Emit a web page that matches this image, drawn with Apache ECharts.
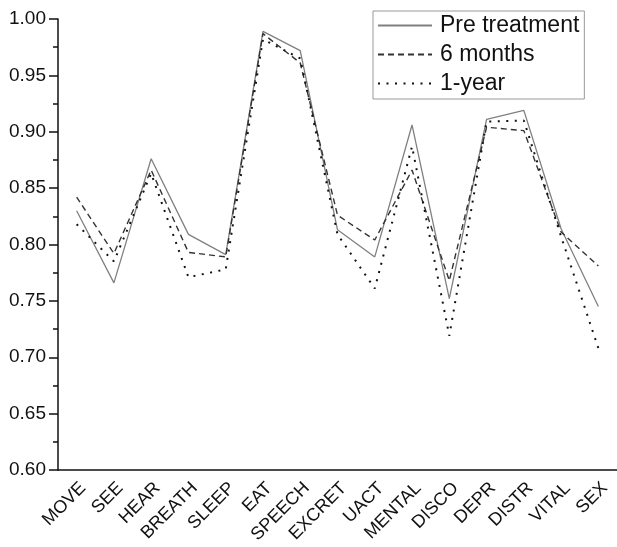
<!DOCTYPE html>
<html>
<head>
<meta charset="utf-8">
<script src="https://cdn.jsdelivr.net/npm/echarts@6/dist/echarts.min.js"></script>
<style>
  html, body { margin: 0; padding: 0; background: #fff; }
  #chart { width: 617px; height: 547px; }
</style>
</head>
<body>
<div id="chart"></div>
<script>
// categories and values
var categories = ['MOVE', 'SEE', 'HEAR', 'BREATH', 'SLEEP', 'EAT', 'SPEECH', 'EXCRET',
  'UACT', 'MENTAL', 'DISCO', 'DEPR', 'DISTR', 'VITAL', 'SEX']
var preTreatment = [0.830, 0.766, 0.876, 0.809, 0.791, 0.989, 0.972, 0.813, 0.789, 0.906, 0.752, 0.911, 0.919, 0.814, 0.745]
var sixMonths = [0.842, 0.792, 0.866, 0.793, 0.789, 0.987, 0.961, 0.826, 0.804, 0.866, 0.768, 0.904, 0.901, 0.811, 0.781]
var oneYear = [0.818, 0.785, 0.863, 0.771, 0.778, 0.982, 0.965, 0.809, 0.761, 0.887, 0.719, 0.909, 0.910, 0.807, 0.708]
var yTicks = [0.60, 0.65, 0.70, 0.75, 0.80, 0.85, 0.90, 0.95, 1.00]

var myChart = echarts.init(document.getElementById('chart'))

var font = 'Liberation Sans, Arial, sans-serif'

var option = {
  animation: false,
  backgroundColor: '#fff',
  grid: {
    left: 58,
    top: 19,
    width: 562,
    height: 451
  },
  legend: {
    left: 373,
    top: 11,
    orient: 'vertical',
    padding: [3, 5, 4, 4],
    itemGap: 6,
    itemWidth: 54,
    itemHeight: 23,
    borderColor: '#999',
    borderWidth: 1,
    itemStyle: { opacity: 0 },
    textStyle: { fontFamily: font, fontSize: 23, color: '#111', padding: [0, 0, 0, 3] },
    data: ['Pre treatment', '6 months', '1-year']
  },
  xAxis: {
    type: 'category',
    data: categories,
    boundaryGap: true,
    axisLine: { lineStyle: { color: '#111', width: 1.5 } },
    axisTick: { alignWithLabel: true, length: 8, lineStyle: { color: '#111', width: 1.5 } },
    axisLabel: {
      rotate: 45,
      margin: 9,
      interval: 0,
      verticalAlign: 'top',
      fontFamily: font,
      fontSize: 18,
      color: '#111'
    }
  },
  yAxis: {
    type: 'value',
    min: yTicks[0],
    max: yTicks[yTicks.length - 1],
    interval: 0.05,
    axisLine: { show: true, lineStyle: { color: '#111', width: 1.5 } },
    axisTick: { show: true, length: 9, lineStyle: { color: '#111', width: 1.5 } },
    minorTick: { show: true, splitNumber: 2, length: 5, lineStyle: { color: '#111', width: 1.5 } },
    splitLine: { show: false },
    axisLabel: {
      margin: 12,
      fontFamily: font,
      fontSize: 19,
      color: '#111',
      formatter: function (v) { return v.toFixed(2) }
    }
  },
  series: [{
    name: 'Pre treatment',
    type: 'line',
    symbol: 'none',
    data: preTreatment,
    lineStyle: { color: '#808080', width: 1.3, type: 'solid' },
    itemStyle: { color: '#808080' }
  }, {
    name: '6 months',
    type: 'line',
    symbol: 'none',
    data: sixMonths,
    lineStyle: { color: '#333', width: 1.4, type: [6, 4] },
    itemStyle: { color: '#333' }
  }, {
    name: '1-year',
    type: 'line',
    symbol: 'none',
    data: oneYear,
    lineStyle: { color: '#111', width: 2, type: [2, 6.5] },
    itemStyle: { color: '#111' }
  }]
}

myChart.setOption(option)
</script>
</body>
</html>
